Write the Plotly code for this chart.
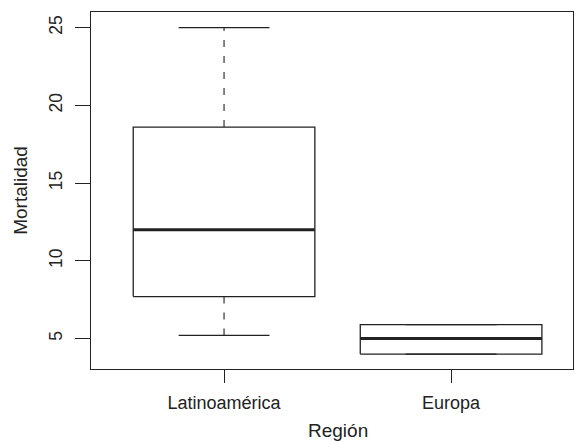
import plotly.graph_objects as go

# Mortality by region: five-number summaries for each box
regions = ["Latinoamérica", "Europa"]
positions = [1, 2]
minimum = [5.2, 4.0]
q1 = [7.7, 4.0]
median = [12.0, 5.0]
q3 = [18.6, 5.9]
maximum = [25.0, 5.9]

y_ticks = [5, 10, 15, 20, 25]

ink = "#222222"
font_family = "Liberation Sans, Arial, Helvetica, sans-serif"
half_box = 0.4
half_cap = 0.2

fig = go.Figure()

for i, x in enumerate(positions):
    # box outline
    fig.add_trace(go.Scatter(
        x=[x - half_box, x + half_box, x + half_box, x - half_box, x - half_box],
        y=[q1[i], q1[i], q3[i], q3[i], q1[i]],
        mode="lines", line=dict(color=ink, width=1.3),
        hoverinfo="skip", showlegend=False))
    # dashed whiskers
    for end, edge in ((maximum[i], q3[i]), (minimum[i], q1[i])):
        fig.add_trace(go.Scatter(
            x=[x, x], y=[edge, end], mode="lines",
            line=dict(color=ink, width=1.1, dash="7px,9px"),
            hoverinfo="skip", showlegend=False))
        # whisker caps
        fig.add_trace(go.Scatter(
            x=[x - half_cap, x + half_cap], y=[end, end], mode="lines",
            line=dict(color=ink, width=1.3),
            hoverinfo="skip", showlegend=False))
    # median
    fig.add_trace(go.Scatter(
        x=[x - half_box, x + half_box], y=[median[i], median[i]],
        mode="lines", line=dict(color=ink, width=3),
        hoverinfo="skip", showlegend=False))

fig.update_layout(
    width=581, height=441,
    margin=dict(l=91, r=8, t=12, b=72),
    paper_bgcolor="white", plot_bgcolor="white",
    font=dict(family=font_family, color=ink, size=17),
)

# x-axis title placed as an annotation below the category labels
fig.add_annotation(
    text="Región", xref="paper", yref="paper", x=0.5, y=0,
    xanchor="center", yanchor="top", yshift=-49, xshift=6,
    showarrow=False, font=dict(size=19, color=ink, family=font_family))

fig.update_xaxes(
    range=[0.414, 2.537],
    tickmode="array", tickvals=positions, ticktext=regions,
    ticks="outside", ticklen=13, tickwidth=1.2, tickcolor=ink,
    showline=True, linecolor=ink, linewidth=1.2, mirror=True,
    showgrid=False, zeroline=False,
    tickfont=dict(size=18), ticklabelstandoff=4,
)
fig.update_yaxes(
    range=[3.04, 26.0],
    tickmode="array", tickvals=y_ticks,
    ticks="outside", ticklen=15, tickwidth=1.2, tickcolor=ink,
    showline=True, linecolor=ink, linewidth=1.2, mirror=True,
    showgrid=False, zeroline=False,
    tickangle=-90, tickfont=dict(size=17.5), ticklabelstandoff=6,
    title=dict(text="Mortalidad", font=dict(size=19), standoff=13),
)

fig.write_html("out.html")
